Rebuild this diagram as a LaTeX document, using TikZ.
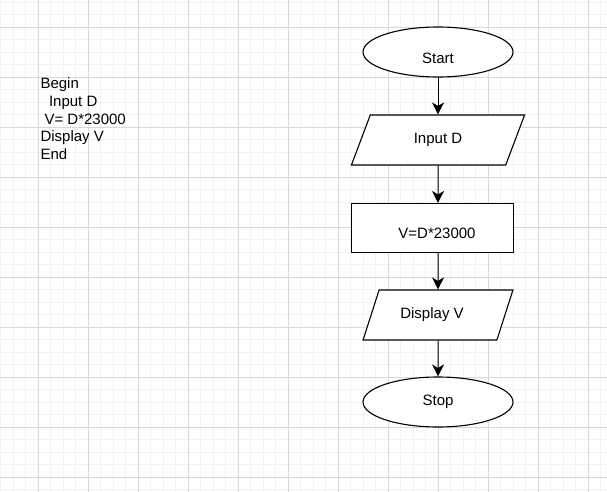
\documentclass[tikz,border=0pt]{standalone}
\usepackage{fontspec}
\setmainfont{Liberation Sans}
\usetikzlibrary{shapes.geometric,arrows.meta}
\begin{document}
\begin{tikzpicture}[x=1pt, y=-1pt, line width=1.1pt,
    font=\fontsize{15pt}{17.7pt}\selectfont,
    minorgrid/.style={line width=0.8pt, draw=black!5},
    majorgrid/.style={line width=0.8pt, draw=black!15},
    term/.style={ellipse, draw, fill=white, minimum width=150pt, minimum height=50pt, inner sep=0pt},
    io/.style={trapezium, trapezium left angle=63.4, trapezium right angle=116.6, trapezium stretches=true,
               draw, fill=white, minimum height=50pt, inner sep=0pt},
    proc/.style={rectangle, draw, fill=white, minimum width=162pt, minimum height=49pt, inner sep=0pt},
    arr/.style={line width=1pt, -{Stealth[length=12pt, width=12pt, inset=3.5pt]}}]
  \useasboundingbox (0,0) rectangle (607,492);
  \fill[white] (0,0) rectangle (607,492);
  % grid
  \foreach \i in {0,...,48} \draw[minorgrid] ({0.8+12.5*\i},0) -- ({0.8+12.5*\i},492);
  \foreach \i in {0,...,39} \draw[minorgrid] (0,{2.3+12.5*\i}) -- (607,{2.3+12.5*\i});
  \foreach \i in {0,...,11} \draw[majorgrid] ({38.3+50*\i},0) -- ({38.3+50*\i},492);
  \foreach \i in {0,...,9} \draw[majorgrid] (0,{27.3+50*\i}) -- (607,{27.3+50*\i});

  \node[anchor=north west, align=left, inner sep=0pt] (code) at (40,77.3)
    {Begin\\\hspace*{8.5pt}Input D\\\hspace*{4pt}V= D*23000\\Display V\\End};

  \node[term, label={[yshift=-6pt]center:Start}] (start) at (438,52) {};
  \node[io, minimum width=174pt] (inp) at (438,140) {Input D};
  \node[proc, label={[yshift=-5.5pt, xshift=4.5pt]center:V=D*23000}] (calc) at (432.5,228) {};
  \node[io, minimum width=150pt] (disp) at (438,315) {\hspace*{-12pt}Display V};
  \node[term] (stop) at (438,402) {Stop};

  \draw[arr] (start) -- (inp);
  \draw[arr] (inp) -- (inp |- calc.north);
  \draw[arr] (calc.south -| disp) -- (disp);
  \draw[arr] (disp) -- (stop);
\end{tikzpicture}
\end{document}
